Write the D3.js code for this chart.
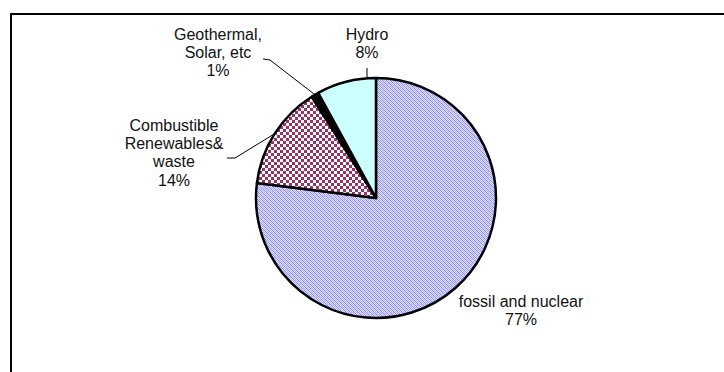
<!DOCTYPE html>
<html>
<head>
<meta charset="utf-8">
<script src="https://cdn.jsdelivr.net/npm/d3@7"></script>
<style>
  html, body { margin: 0; padding: 0; background: #fff; }
  svg { display: block; }
  text { font-family: "Liberation Sans", Arial, sans-serif; font-size: 16px; fill: #111; }
</style>
</head>
<body>
<svg id="chart" width="724" height="372"></svg>
<script>
// Electricity generation by source (share of total, %)
const categories = ["fossil and nuclear", "Combustible Renewables& waste", "Geothermal, Solar, etc", "Hydro"];
const labelLines = [["fossil and nuclear"], ["Combustible", "Renewables&", "waste"], ["Geothermal,", "Solar, etc"], ["Hydro"]];
const shares = [77, 14, 1, 8];

const svg = d3.select("#chart");

// chart frame (runs off the right and bottom edges)
svg.append("rect")
  .attr("x", 11).attr("y", 14)
  .attr("width", 760).attr("height", 420)
  .attr("fill", "#fff").attr("stroke", "#000").attr("stroke-width", 2);

// fill patterns
const defs = svg.append("defs");
const pFossil = defs.append("pattern").attr("id", "pFossil")
  .attr("patternUnits", "userSpaceOnUse").attr("width", 4).attr("height", 4);
pFossil.append("rect").attr("width", 4).attr("height", 4).attr("fill", "#dcdcff");
[[0, 0], [1, 1], [2, 2], [3, 3], [2, 0], [0, 2], [3, 1], [1, 3]].forEach(([px, py], k) => {
  pFossil.append("rect").attr("x", px).attr("y", py).attr("width", 1).attr("height", 1)
    .attr("fill", k < 4 ? "#8a8af0" : "#b4b4f6");
});

const pComb = defs.append("pattern").attr("id", "pComb")
  .attr("patternUnits", "userSpaceOnUse").attr("width", 6).attr("height", 6);
pComb.append("rect").attr("width", 6).attr("height", 6).attr("fill", "#fff");
pComb.append("rect").attr("width", 3).attr("height", 3).attr("fill", "#993366");
pComb.append("rect").attr("x", 3).attr("y", 3).attr("width", 3).attr("height", 3).attr("fill", "#993366");

const fills = ["url(#pFossil)", "url(#pComb)", "#000000", "#ccffff"];

const cx = 376, cy = 198, r = 120;
const g = svg.append("g").attr("transform", `translate(${cx},${cy})`);

const pie = d3.pie().sort(null).value(d => d)(shares);
const arc = d3.arc().innerRadius(0).outerRadius(r);

g.selectAll("path.slice").data(pie).join("path")
  .attr("class", "slice")
  .attr("d", arc)
  .attr("fill", (d, i) => fills[i])
  .attr("stroke", "#000").attr("stroke-width", 2.5).attr("stroke-linejoin", "round");

// label placement: centre x, first baseline, leader line start points
const labelPos = [
  { x: 521, y: 307, leader: null },
  { x: 174, y: 131, leader: [[227, 158], [235, 158]] },
  { x: 218, y: 40, leader: [[263, 59], [270, 60]] },
  { x: 367, y: 40, leader: null }
];
const lineH = 18.2;

pie.forEach((d, i) => {
  const lp = labelPos[i];
  const lines = labelLines[i].concat([d3.format(".0f")(shares[i]) + "%"]);
  const t = svg.append("text").attr("text-anchor", "middle");
  lines.forEach((s, k) => {
    t.append("tspan").attr("x", lp.x).attr("y", lp.y + k * lineH).text(s);
  });
  if (lp.leader) {
    const mid = (d.startAngle + d.endAngle) / 2;
    const edge = [cx + r * Math.sin(mid), cy - r * Math.cos(mid)];
    svg.append("polyline")
      .attr("points", lp.leader.concat([edge]).map(p => p.join(",")).join(" "))
      .attr("fill", "none").attr("stroke", "#000").attr("stroke-width", 1);
  }
});

// short vertical tick from the Hydro label down to the rim
(() => {
  const tx = labelPos[3].x;
  const ty = cy - Math.sqrt(r * r - (tx - cx) * (tx - cx));
  svg.append("line")
    .attr("x1", tx).attr("y1", 68).attr("x2", tx).attr("y2", ty)
    .attr("stroke", "#000").attr("stroke-width", 1);
})();
</script>
</body>
</html>
